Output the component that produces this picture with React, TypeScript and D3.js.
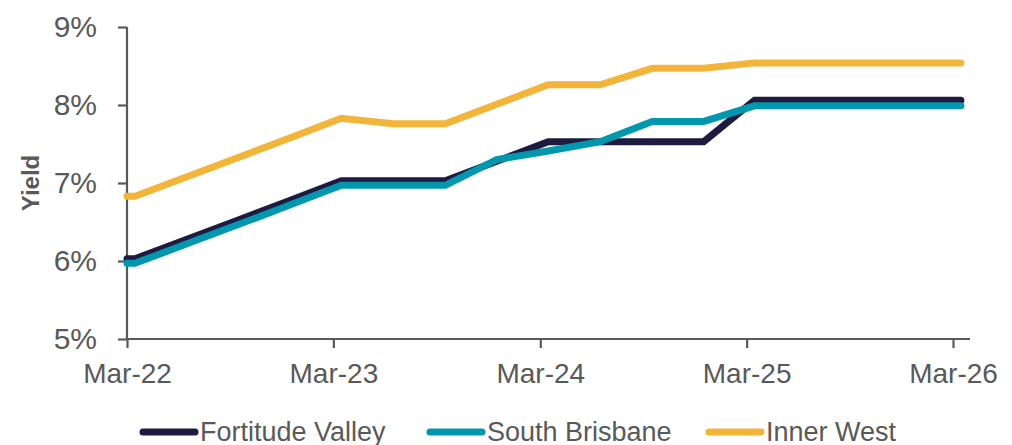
import React, { useEffect, useRef } from "react";
import * as d3 from "d3";

// quarterly yields, first point sits on the axis start
const dates = [
  "2022-03-01", "2022-03-15", "2022-06-15", "2022-09-15", "2022-12-15",
  "2023-03-15", "2023-06-15", "2023-09-15", "2023-12-15",
  "2024-03-15", "2024-06-15", "2024-09-15", "2024-12-15",
  "2025-03-15", "2025-06-15", "2025-09-15", "2025-12-15", "2026-03-15",
];
const fortitudeValley = [6.03, 6.03, 6.28, 6.53, 6.78, 7.03, 7.03, 7.03, 7.28, 7.53, 7.53, 7.53, 7.53, 8.06, 8.06, 8.06, 8.06, 8.06];
const southBrisbane = [5.97, 5.97, 6.22, 6.47, 6.72, 6.97, 6.97, 6.97, 7.3, 7.41, 7.53, 7.79, 7.79, 7.99, 7.99, 7.99, 7.99, 7.99];
const innerWest = [6.83, 6.83, 7.08, 7.33, 7.58, 7.83, 7.76, 7.76, 8.01, 8.26, 8.26, 8.47, 8.47, 8.54, 8.54, 8.54, 8.54, 8.54];

const seriesNames = ["Fortitude Valley", "South Brisbane", "Inner West"];
const seriesColors = ["#1f1a40", "#0097af", "#f2b53a"];
const xTickDates = ["2022-03-01", "2023-03-01", "2024-03-01", "2025-03-01", "2026-03-01"];
const yTicks = [5, 6, 7, 8, 9];

const FONT = "'Liberation Sans', Arial, sans-serif";
const AXIS = "#595959";

export default function App() {
  const ref = useRef<SVGSVGElement>(null);

  useEffect(() => {
    const svg = d3.select(ref.current);
    svg.selectAll("*").remove();

    const parse = d3.timeParse("%Y-%m-%d");
    const x = d3
      .scaleTime()
      .domain([parse("2022-03-01")!, parse("2026-03-01")!])
      .range([127, 953]);
    const y = d3.scaleLinear().domain([5, 9]).range([339, 27]);

    const series = [fortitudeValley, southBrisbane, innerWest].map((vals, i) => ({
      name: seriesNames[i],
      color: seriesColors[i],
      points: vals.map((v, j) => ({ date: parse(dates[j])!, value: v })),
    }));

    // axes
    const yAxis = svg
      .append("g")
      .attr("transform", "translate(127,0)")
      .call(
        d3.axisLeft(y).tickValues(yTicks).tickSize(9).tickPadding(21)
          .tickFormat((d) => `${d}%`)
      );
    yAxis.select(".domain").attr("d", "M0,27V339");
    yAxis.selectAll("text").style("font-size", "30px");

    const xAxis = svg
      .append("g")
      .attr("transform", "translate(0,339)")
      .call(
        d3.axisBottom(x)
          .tickValues(xTickDates.map((d) => parse(d)!))
          .tickSize(9)
          .tickPadding(15)
          .tickFormat((d) => d3.timeFormat("%b-%y")(d as Date))
      );
    xAxis.select(".domain").attr("d", "M127,0H970");
    xAxis.selectAll("text").style("font-size", "28px");

    [yAxis, xAxis].forEach((g) => {
      g.selectAll(".domain, line").attr("stroke", AXIS).attr("stroke-width", 2.2);
      g.selectAll("text").attr("fill", AXIS).style("font-family", FONT);
    });

    svg
      .append("text")
      .attr("transform", "translate(39,183) rotate(-90)")
      .attr("text-anchor", "middle")
      .style("font-family", FONT)
      .style("font-size", "24px")
      .style("font-weight", "bold")
      .attr("fill", AXIS)
      .text("Yield");

    const line = d3
      .line<{ date: Date; value: number }>()
      .x((d) => x(d.date))
      .y((d) => y(d.value));

    svg
      .append("g")
      .selectAll("path")
      .data(series)
      .enter()
      .append("path")
      .attr("d", (d) => line(d.points))
      .attr("fill", "none")
      .attr("stroke", (d) => d.color)
      .attr("stroke-width", 7)
      .attr("stroke-linejoin", "miter")
      .attr("stroke-linecap", "round");

    // legend
    const legendX = [140, 427, 706];
    const legend = svg
      .append("g")
      .selectAll("g")
      .data(series)
      .enter()
      .append("g")
      .attr("transform", (d, i) => `translate(${legendX[i]},432)`);

    legend
      .append("line")
      .attr("x1", 3)
      .attr("x2", 55)
      .attr("stroke", (d) => d.color)
      .attr("stroke-width", 7)
      .attr("stroke-linecap", "round");

    legend
      .append("text")
      .attr("x", 60)
      .attr("dy", "0.35em")
      .attr("fill", AXIS)
      .style("font-family", FONT)
      .style("font-size", "27px")
      .text((d) => d.name);
  }, []);

  return (
    <svg
      ref={ref}
      width={1012}
      height={445}
      style={{ position: "absolute", left: 0, top: 0, background: "#fff" }}
    />
  );
}
